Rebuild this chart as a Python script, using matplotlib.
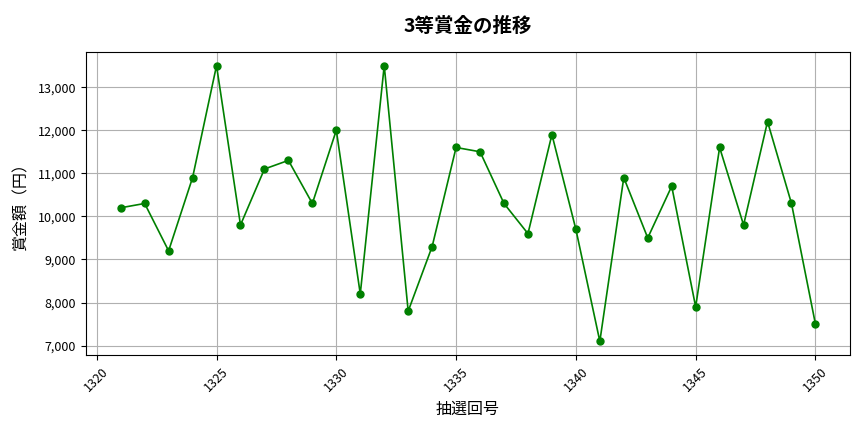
import matplotlib
matplotlib.use("Agg")
import matplotlib.pyplot as plt
from matplotlib.ticker import FuncFormatter

plt.rcParams['font.family'] = ['Noto Sans CJK JP', 'DejaVu Sans']

draws = list(range(1321, 1351))
prizes = [10200, 10300, 9200, 10900, 13500, 9800, 11100, 11300, 10300, 12000,
          8200, 13500, 7800, 9300, 11600, 11500, 10300, 9600, 11900, 9700,
          7100, 10900, 9500, 10700, 7900, 11600, 9800, 12200, 10300, 7500]

title = "3等賞金の推移"
xlabel = "抽選回号"
ylabel = "賞金額（円）"

fig, ax = plt.subplots(figsize=(8.64, 4.32), dpi=100)
ax.plot(draws, prizes, marker='o', color='green', linewidth=1.2, markersize=5)
ax.set_title(title, fontsize=14, fontweight='bold', pad=14)
ax.set_xlabel(xlabel, fontsize=11.5, labelpad=5)
ax.set_ylabel(ylabel, fontsize=11.5, labelpad=6)
ax.grid(True)
ax.tick_params(labelsize=9)
ax.yaxis.set_major_formatter(FuncFormatter(lambda v, p: f"{int(v):,}"))
plt.setp(ax.get_xticklabels(), rotation=45)
fig.subplots_adjust(left=0.0995, right=0.984, top=0.88, bottom=0.178)
fig.savefig("out.png", dpi=100)
